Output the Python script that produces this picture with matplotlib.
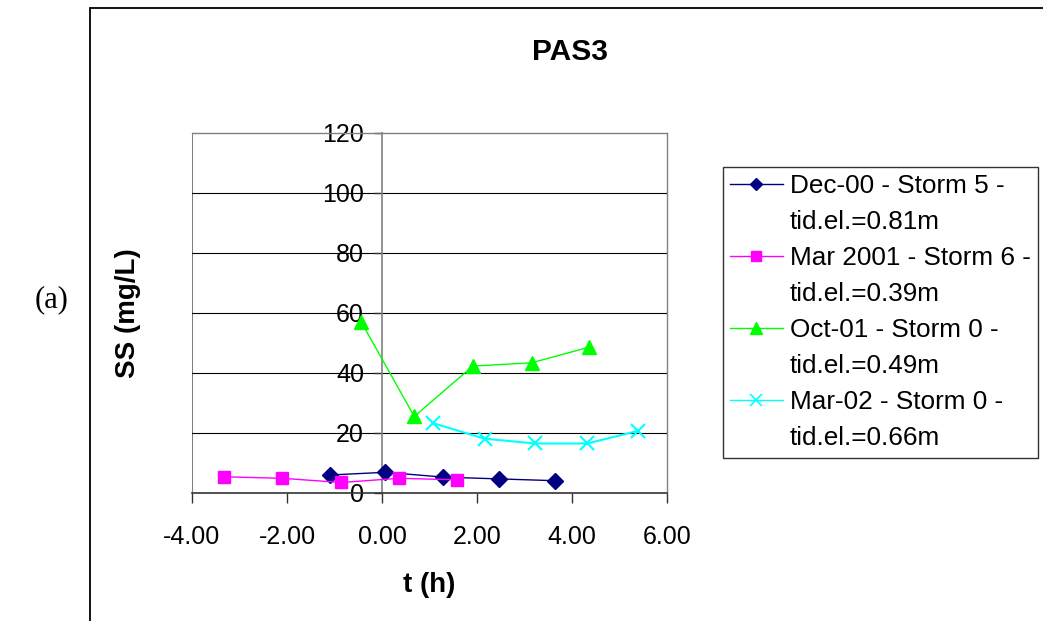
import matplotlib
matplotlib.use("Agg")
import matplotlib.pyplot as plt
from matplotlib.lines import Line2D
from matplotlib.patches import Rectangle

plt.rcParams['font.family'] = ['Liberation Sans', 'DejaVu Sans']

# series: t (h) and SS (mg/L)
dec00_t = [-1.10, 0.07, 1.29, 2.46, 3.65]
dec00_ss = [5.9, 6.8, 5.2, 4.6, 4.0]

mar01_t = [-3.32, -2.10, -0.86, 0.36, 1.57]
mar01_ss = [5.3, 4.8, 3.4, 4.8, 4.3]

oct01_t = [-0.44, 0.68, 1.91, 3.15, 4.36]
oct01_ss = [57.0, 25.4, 42.2, 43.3, 48.5]

mar02_t = [1.07, 2.16, 3.23, 4.32, 5.39]
mar02_ss = [23.2, 18.0, 16.4, 16.4, 20.6]

labels = [
    ("Dec-00 - Storm 5 -", "tid.el.=0.81m"),
    ("Mar 2001 - Storm 6 -", "tid.el.=0.39m"),
    ("Oct-01 - Storm 0 -", "tid.el.=0.49m"),
    ("Mar-02 - Storm 0 -", "tid.el.=0.66m"),
]
xticks = [-4, -2, 0, 2, 4, 6]
yticks = [0, 20, 40, 60, 80, 100, 120]

W, H = 1043, 621
fig = plt.figure(figsize=(W / 100, H / 100), dpi=100)

# outer chart frame (runs off the right and bottom edge)
fig.patches.append(Rectangle((90 / W, -0.2), 2.0, 1 - 8 / H + 0.2,
                             transform=fig.transFigure, fill=False,
                             edgecolor='black', linewidth=1.3))

ax = fig.add_axes([192 / W, 1 - 492.7 / H, 475 / W, 360 / H])
ax.set_xlim(-4, 6)
ax.set_ylim(0, 120)

grey = '#808080'
for s in ['top', 'right']:
    ax.spines[s].set_color(grey)
    ax.spines[s].set_linewidth(1.0)
ax.spines['left'].set_position(('data', 0))
ax.spines['left'].set_color(grey)
ax.spines['left'].set_linewidth(1.2)
ax.spines['bottom'].set_color('#333333')
ax.spines['bottom'].set_linewidth(1.2)
ax.axvline(-4, color=grey, linewidth=1.5, zorder=0.5)

for v in yticks[1:-1]:
    ax.axhline(v, color='black', linewidth=0.8, zorder=0.5)

ax.set_xticks(xticks)
ax.set_xticklabels([f"{v:.2f}" for v in xticks])
ax.set_yticks(yticks)
ax.tick_params(axis='x', direction='out', length=7, width=1, pad=16,
               labelsize=18, color='#333333')
ax.tick_params(axis='y', direction='out', length=6, width=1, pad=7,
               labelsize=18, color='#333333')

ax.plot(dec00_t, dec00_ss, color='#000080', marker='D', markersize=8.5,
        linewidth=1.0, zorder=3)
ax.plot(mar01_t, mar01_ss, color='#FF00FF', marker='s', markersize=9,
        linewidth=1.0, zorder=3)
ax.plot(oct01_t, oct01_ss, color='#00FF00', marker='^', markersize=10.5,
        linewidth=1.0, zorder=3)
ax.plot(mar02_t, mar02_ss, color='#00FFFF', marker='x', markersize=10,
        markeredgewidth=1.5, linewidth=1.5, zorder=3)

ax.set_xlabel("t (h)", fontsize=20, fontweight='bold')
ax.xaxis.set_label_coords(0.5, -0.256)
ax.xaxis.label.set_va('center')
ax.set_ylabel("SS (mg/L)", fontsize=20, fontweight='bold')
ax.yaxis.set_label_coords(-0.135, 0.5)
ax.yaxis.label.set_va('center')

fig.text(570 / W, 1 - 52 / H, "PAS3", fontsize=21.5, fontweight='bold',
         ha='center', va='center')
fig.text(52 / W, 1 - 300 / H, "(a)", fontsize=22, family='Liberation Serif',
         ha='center', va='center')

# legend: one entry per text line, handle only on the first line
styles = [
    dict(color='#000080', marker='D', markersize=6.5),
    dict(color='#FF00FF', marker='s', markersize=7.5),
    dict(color='#00FF00', marker='^', markersize=9),
    dict(color='#00FFFF', marker='x', markersize=9, markeredgewidth=1.2),
]
handles, texts = [], []
for st, (l1, l2) in zip(styles, labels):
    handles.append(Line2D([], [], linewidth=1.0, **st))
    texts.append(l1)
    handles.append(Line2D([], [], linestyle='none'))
    texts.append(l2)
leg = fig.legend(handles, texts, loc='upper left',
                 bbox_to_anchor=(723 / W, 1 - 167 / H),
                 bbox_transform=fig.transFigure, fontsize=18.8,
                 frameon=True, fancybox=False, borderaxespad=0,
                 handlelength=2.0, handletextpad=0.27, labelspacing=0.46,
                 borderpad=0.28)
leg.get_frame().set_edgecolor('black')
leg.get_frame().set_linewidth(1.0)

fig.savefig("out.png", dpi=100)
